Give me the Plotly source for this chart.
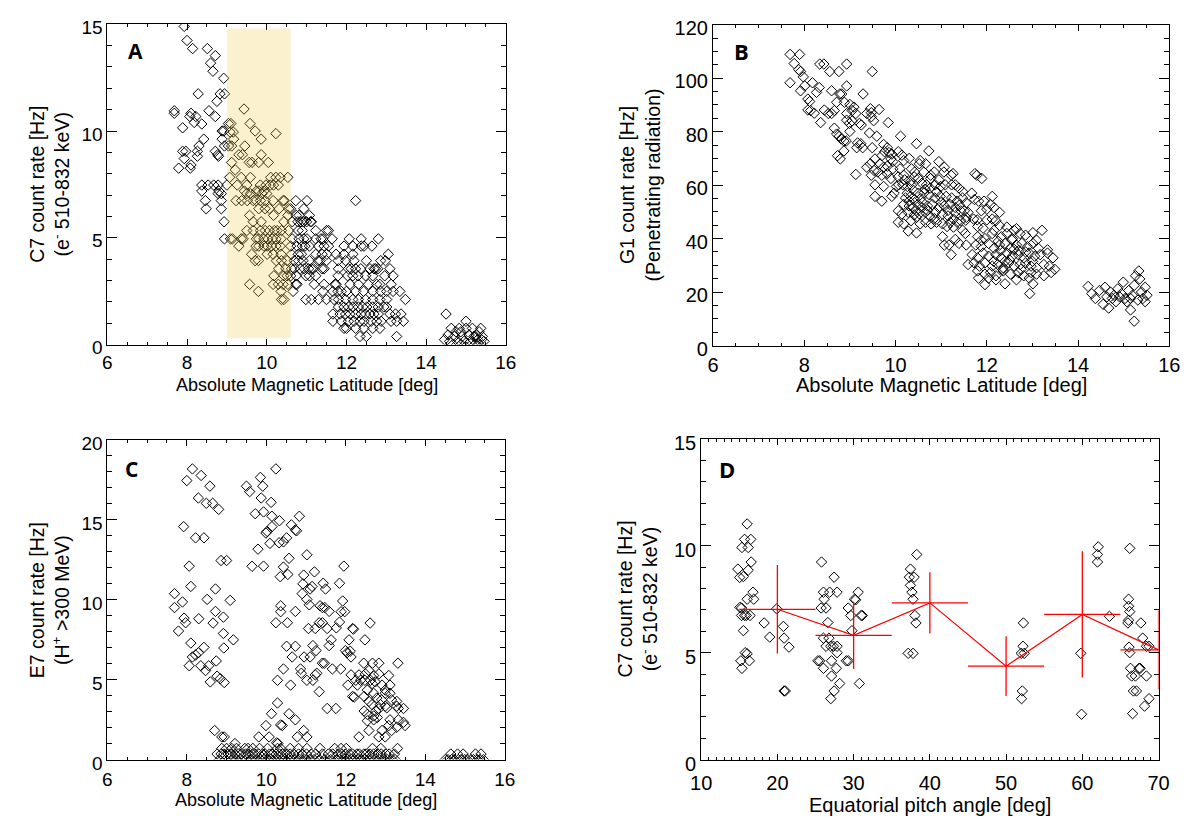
import plotly.graph_objects as go

W, H = 1191, 823

# ---------------- DATA ----------------
# Panel A: C7 count rate [Hz] (quantised levels) vs absolute magnetic latitude [deg]
a_rows = [
    (14.9, [7.93]), (14.24, [8.0]), (13.86, [8.14, 8.51]), (13.53, [8.71]), (13.18, [8.59]),
    (12.8, [8.65]), (12.47, [8.92]), (11.74, [8.28, 8.83, 8.94]), (11.39, [8.75]), (11.03, [9.43]),
    (10.95, [7.68, 8.55]), (10.83, [7.68, 8.1]), (10.68, [8.07, 8.22, 8.71]), (10.4, [8.18]),
    (10.35, [9.04, 9.1, 9.58]), (10.33, [8.37]), (10.15, [7.89]), (10.0, [8.88, 8.92, 9.71]),
    (9.95, [9.08, 9.16]), (9.88, [10.23]), (9.62, [8.42, 8.88, 9.17, 9.86]),
    (9.3, [8.3, 8.94, 9.04, 9.12, 9.45]), (9.05, [7.97, 8.26, 8.71, 7.89]),
    (8.89, [8.77, 9.3, 9.39, 9.86]), (8.82, [8.79, 8.26]), (8.71, [7.93]),
    (8.53, [9.12, 9.56, 9.63, 9.8, 10.04]), (8.41, [8.1]), (8.26, [8.08, 7.79]), (8.18, [9.21]),
    (7.83, [9.07, 9.36, 9.59, 10.1, 10.23, 10.34, 10.53]),
    (7.47, [8.37, 8.53, 8.67, 8.78, 9.0, 9.26, 9.5, 9.84, 9.98, 10.09, 10.17, 10.29]),
    (7.19, [8.37, 8.8, 9.44, 9.74, 9.8, 9.93]),
    (7.07, [8.78, 8.86, 9.5, 9.59, 9.88, 10.0]),
    (6.74, [8.46, 8.86, 9.23, 9.37, 9.51, 9.66, 9.73, 9.84, 9.96, 10.16, 10.41, 10.44, 10.73, 11.01, 12.23]),
    (6.36, [8.48, 8.86, 9.8, 9.96, 10.07, 10.31, 10.55, 10.6, 10.93]),
    (6.05, [9.57, 10.17, 10.53, 10.74, 10.81, 11.07]),
    (5.75, [8.93, 9.66, 9.86, 10.43, 10.64, 10.86, 10.93, 11.0, 11.12, 10.78, 10.92, 11.1]),
    (5.34, [9.5, 9.66, 9.84, 9.96, 10.07, 10.19, 10.26, 10.37, 10.55, 10.79, 10.89, 11.23, 11.5, 11.55]),
    (4.95, [8.94, 9.09, 9.14, 9.36, 9.41, 9.74, 9.8, 9.93, 10.03, 10.14, 10.23, 10.36, 10.64, 10.81,
            10.93, 11.01, 11.23, 11.36, 11.41, 11.64, 12.07, 12.37, 12.8]),
    (4.61, [9.3, 9.73, 9.8, 9.93, 10.01, 10.12, 10.23, 10.34, 10.6, 10.76, 10.89, 10.96, 11.07, 11.3,
            11.44, 11.55, 11.94, 12.16, 12.37, 12.44, 12.64]),
    (4.23, [9.62, 10.01, 10.16, 10.36, 10.62, 10.79, 10.87, 11.23, 11.39, 11.51, 11.74, 11.94, 12.16, 13.05]),
    (3.93, [9.71, 9.79, 10.24, 10.37, 10.51, 10.69, 10.8, 10.91, 11.07, 11.29, 11.34, 11.5, 11.79, 11.98,
            12.19, 12.5, 12.86, 12.98]),
    (3.55, [10.3, 10.48, 10.62, 10.69, 10.84, 10.94, 11.05, 11.12, 11.17, 11.39, 11.44, 11.8, 12.05, 12.12,
            12.23, 12.36, 12.59, 12.69, 12.73, 12.79, 13.09]),
    (3.22, [10.18, 10.43, 10.51, 10.6, 10.74, 10.98, 11.07, 11.23, 11.79, 12.03, 12.16, 12.29, 12.48,
            12.66, 12.96, 13.17]),
    (2.82, [9.57, 10.16, 10.29, 10.41, 10.53, 10.73, 10.76, 11.19, 11.44, 11.71, 11.74, 12.09, 12.3,
            12.55, 12.76, 12.84, 13.12]),
    (2.49, [9.79, 10.36, 10.66, 11.41, 11.66, 11.79, 11.87, 12.0, 12.23, 12.43, 12.66, 12.86, 13.01,
            13.17, 13.34]),
    (2.11, [10.37, 10.43, 10.98, 11.12, 11.3, 11.5, 11.69, 11.8, 11.98, 12.16, 12.3, 12.48, 12.66, 12.84,
            13.01, 13.48]),
    (1.76, [11.8, 11.94, 12.05, 12.16, 12.3, 12.41, 12.51, 12.66, 12.8, 12.94, 13.01]),
    (1.43, [11.66, 11.84, 11.98, 12.09, 12.23, 12.37, 12.48, 12.59, 12.69, 12.8, 13.09, 13.23, 13.37, 14.5]),
    (1.09, [11.66, 11.87, 12.05, 12.19, 12.34, 12.44, 12.62, 12.76, 12.87, 13.12, 13.26, 13.43, 15.0]),
    (0.76, [11.94, 12.0, 12.23, 12.44, 12.66, 12.84, 14.63, 14.83, 15.0, 15.16, 15.37]),
    (0.6, [14.75, 14.87, 15.33]),
    (0.45, [14.55, 15.08, 15.26]),
    (0.38, [12.34, 12.5, 13.26, 14.71, 14.9, 15.2, 15.24, 15.41]),
    (0.23, [14.46, 15.29, 15.39]),
    (0.15, [14.59, 14.79, 14.95, 15.12, 15.45]),
    (0.0, [14.67, 14.87, 15.04, 15.33, 15.22]),
]
a_shade_lat = [9.0, 10.6]
a_shade_c7 = [0.3, 14.8]

# Panel B: G1 count rate [Hz] vs absolute magnetic latitude [deg]
b_upper = [
    (7.69, 108.9), (7.9, 108.9), (7.78, 105.5), (7.88, 103.2), (7.92, 102.5), (7.98, 100.5), (7.69, 98.3),
    (8.01, 97.1), (7.92, 95.3), (8.18, 98.3), (8.34, 105.3), (8.43, 105.3), (8.56, 102.5), (8.76, 102.5),
    (8.93, 105.3), (9.49, 102.5), (8.33, 96.5), (8.93, 97.1), (8.6, 95.3), (8.78, 94.1), (8.82, 94.1),
    (8.27, 94.7), (8.08, 92.2), (8.12, 91.3), (8.08, 88.1), (8.14, 87.9), (8.22, 86.9), (8.44, 88.1),
    (8.53, 86.8), (8.6, 86.8), (8.66, 87.9), (8.36, 83.4), (8.71, 91.0), (8.88, 91.0), (9.0, 90.2),
    (9.09, 89.2), (9.05, 87.9), (8.93, 86.8), (9.13, 86.8), (9.29, 94.1), (9.45, 88.6), (9.47, 87.1),
    (9.64, 88.3), (9.37, 86.8), (8.93, 84.3), (8.99, 83.1), (9.05, 84.0), (9.21, 83.1), (9.25, 82.5),
    (9.47, 85.6), (9.52, 84.1), (9.84, 83.4), (8.66, 81.3), (8.71, 79.1), (8.77, 78.3), (8.81, 77.3),
    (8.87, 76.5), (8.92, 76.5), (9.0, 80.1), (9.17, 75.8), (9.24, 75.5), (9.28, 74.0), (9.43, 79.5),
    (9.59, 78.3), (9.49, 74.0), (9.15, 74.0), (8.73, 71.0), (8.79, 69.8), (8.87, 72.8), (9.13, 64.0),
    (10.11, 78.3), (10.46, 75.5), (10.73, 72.8), (9.74, 75.2), (9.82, 74.0), (9.76, 72.5), (9.86, 72.2),
    (9.7, 71.0), (9.92, 71.6), (10.06, 72.5), (10.14, 71.2), (9.9, 69.8), (9.55, 69.8), (9.66, 68.0),
    (9.45, 68.0), (9.37, 66.7), (9.74, 66.7), (9.82, 67.1), (9.94, 68.8), (10.18, 69.2), (10.3, 70.0),
    (10.54, 69.2), (10.66, 68.0), (10.95, 68.8), (11.07, 66.7), (9.53, 65.5), (9.61, 64.9), (9.82, 64.3),
    (9.94, 66.1), (10.1, 66.1), (10.35, 66.1), (9.47, 63.7), (9.7, 63.7), (9.55, 60.1), (9.74, 59.5),
    (9.55, 55.8), (9.7, 54.0), (9.92, 55.8), (9.97, 57.0), (10.02, 59.5), (10.07, 60.1), (9.9, 62.5),
    (10.06, 63.1), (10.18, 63.7), (10.42, 64.9), (10.62, 64.9), (10.52, 68.0), (10.77, 63.7),
    (10.85, 64.9), (11.06, 64.9), (11.22, 63.7), (11.26, 64.3), (11.74, 64.3), (11.78, 63.7),
    (11.89, 62.5), (10.77, 62.5),
]
b_middle = [
    (10.16, 60.1), (10.26, 59.5), (10.33, 61.4), (10.41, 63.1), (10.5, 62.5), (10.58, 60.7), (10.68, 60.1),
    (10.76, 58.9), (10.87, 60.1), (10.99, 59.5), (11.09, 60.1), (11.23, 60.1), (11.31, 60.1), (11.39, 58.9),
    (11.47, 57.6), (11.67, 57.0), (11.73, 54.6), (11.94, 54.0), (12.12, 55.8), (12.08, 52.8), (12.16, 51.6),
    (12.28, 49.8), (12.0, 51.0), (11.88, 50.4), (11.82, 54.0), (10.26, 57.0), (10.22, 55.2), (10.33, 55.8),
    (10.42, 54.6), (10.5, 57.0), (10.62, 57.0), (10.74, 56.4), (10.86, 55.2), (10.98, 55.8), (11.11, 55.8),
    (11.23, 55.2), (11.35, 54.0), (11.47, 55.2), (11.55, 53.4), (10.18, 52.8), (10.3, 52.2), (10.38, 51.6),
    (10.49, 52.8), (10.58, 51.6), (10.7, 52.2), (10.81, 52.8), (10.95, 51.6), (11.07, 52.2), (11.19, 52.8),
    (11.31, 51.6), (11.43, 50.4), (10.06, 50.4), (10.14, 49.2), (10.28, 49.8), (10.41, 48.9), (10.52, 49.3),
    (10.65, 49.8), (10.75, 48.5), (10.87, 49.8), (11.03, 49.2), (11.15, 48.5), (11.31, 49.8), (11.51, 50.4),
    (11.59, 49.8), (11.71, 47.3), (11.79, 47.0), (12.0, 47.0), (10.06, 46.1), (10.18, 45.5), (10.34, 46.7),
    (10.46, 47.9), (10.54, 45.5), (10.66, 46.1), (10.78, 45.5), (10.9, 46.1), (11.03, 45.5), (11.13, 44.5),
    (11.27, 47.3), (11.35, 46.1), (11.43, 46.7), (11.55, 47.9), (11.47, 43.1), (11.53, 41.9), (10.28, 42.8),
    (10.46, 42.1), (11.27, 44.3), (11.03, 40.7), (11.07, 37.6), (11.17, 37.6), (11.22, 34.0), (11.31, 39.7),
    (11.39, 38.2), (11.55, 37.6), (10.4, 58.0), (10.55, 55.0), (10.7, 50.5), (10.85, 47.5), (11.0, 53.5),
    (10.3, 54.0), (10.6, 53.5), (10.9, 57.5), (11.15, 50.5), (10.45, 50.5), (10.2, 62.0), (10.65, 58.5),
    (11.2, 46.0), (10.95, 62.0), (10.35, 60.0), (11.4, 52.5),
]
b_lower = [
    (12.12, 47.3), (12.2, 46.7), (11.54, 46.9), (11.8, 44.5), (11.92, 43.9), (12.16, 43.1), (12.28, 44.9),
    (12.44, 44.3), (12.6, 43.1), (12.65, 43.7), (11.8, 40.7), (11.96, 40.0), (12.12, 41.9), (12.32, 40.7),
    (12.44, 41.9), (12.56, 40.0), (12.73, 41.9), (12.85, 41.3), (13.01, 42.2), (13.21, 43.1), (13.09, 39.4),
    (11.88, 39.4), (11.76, 37.6), (11.88, 37.0), (12.04, 38.2), (12.16, 36.4), (12.28, 37.6), (12.4, 38.2),
    (12.52, 36.4), (12.65, 37.6), (12.77, 38.2), (12.89, 37.0), (13.01, 38.2), (13.13, 36.4), (13.33, 35.8),
    (11.68, 34.0), (11.8, 32.8), (11.92, 34.6), (12.04, 33.4), (12.2, 34.0), (12.32, 32.8), (12.44, 34.6),
    (12.56, 33.4), (12.69, 34.0), (12.81, 32.8), (12.93, 34.6), (13.05, 33.4), (13.17, 34.0), (13.33, 34.6),
    (13.45, 32.8), (11.59, 30.3), (11.72, 30.9), (11.84, 29.7), (11.96, 30.9), (12.12, 29.7), (12.24, 30.3),
    (12.36, 29.1), (12.48, 30.9), (12.6, 29.7), (12.73, 30.3), (12.85, 30.9), (12.97, 29.7), (13.09, 29.1),
    (13.25, 30.3), (13.37, 29.7), (13.49, 28.5), (11.8, 27.9), (11.96, 26.7), (12.08, 27.3), (12.2, 26.1),
    (12.36, 27.9), (12.52, 26.7), (12.69, 27.3), (12.81, 26.1), (12.97, 27.3), (13.09, 26.7), (13.25, 26.1),
    (13.41, 27.3), (11.82, 25.2), (12.04, 25.2), (12.2, 24.6), (12.4, 23.1), (12.65, 24.6), (12.93, 25.2),
    (13.01, 23.1), (11.96, 22.8), (12.94, 19.4), (12.3, 35.5), (12.5, 32.0), (12.7, 35.5), (12.4, 31.5),
    (12.6, 36.0), (12.15, 31.5), (12.85, 35.0), (12.55, 39.5), (12.25, 39.0), (13.0, 31.5), (12.75, 28.5),
    (12.35, 28.5),
]
b_far = [
    (14.22, 22.1), (14.3, 19.4), (14.38, 17.6), (14.55, 15.4), (14.67, 14.0), (14.47, 20.6), (14.59, 21.8),
    (14.71, 20.0), (14.79, 18.8), (14.87, 21.2), (14.95, 19.4), (15.03, 17.6), (15.11, 20.6), (15.19, 18.8),
    (15.23, 22.5), (15.31, 17.0), (15.35, 24.9), (15.39, 20.0), (15.47, 21.8), (15.51, 18.8), (15.33, 27.9),
    (15.26, 26.1), (15.23, 9.1), (15.15, 13.3), (14.83, 16.4), (14.99, 23.7), (15.07, 16.4), (14.75, 17.6),
    (14.63, 18.2), (14.91, 18.2), (15.15, 17.6), (15.42, 17.6), (15.47, 16.4),
]

# Panel C: E7 count rate [Hz] vs absolute magnetic latitude [deg]
c_scatter = [
    (8.14, 18.18), (8.36, 17.77), (8.0, 17.45), (8.58, 17.1), (8.29, 16.36), (8.49, 16.03), (8.65, 16.03),
    (8.8, 15.65), (7.92, 14.57), (8.22, 13.87), (8.43, 13.87), (8.86, 12.45), (9.0, 12.45), (8.06, 12.1),
    (8.1, 10.83), (7.69, 10.38), (8.51, 10.02), (8.72, 10.67), (9.09, 9.96), (7.89, 9.86), (7.69, 9.51),
    (7.93, 8.85), (7.97, 8.56), (8.3, 8.81), (8.72, 9.27), (8.92, 8.91), (8.66, 8.54), (7.79, 8.04),
    (8.92, 7.89), (9.17, 7.49), (8.1, 7.29), (8.43, 7.02), (8.93, 6.98), (8.29, 6.68), (8.22, 6.54),
    (8.14, 6.42), (8.74, 6.17), (8.06, 5.87), (8.35, 5.87), (8.55, 5.87), (8.47, 5.57), (8.59, 4.86),
    (8.76, 5.22), (8.84, 5.06), (8.94, 4.82),
    (10.24, 18.18), (9.5, 17.1), (9.58, 16.76), (9.85, 17.65), (9.91, 17.1), (9.87, 16.36), (10.12, 16.09),
    (9.72, 15.38), (9.93, 15.49), (10.14, 15.22), (10.33, 14.94), (10.14, 14.57), (10.02, 14.27),
    (9.99, 14.17), (10.63, 14.68), (10.73, 14.37), (10.76, 14.31), (10.83, 15.22), (10.43, 13.62),
    (10.51, 13.87), (10.32, 13.56), (10.09, 13.52), (9.79, 13.16), (9.64, 12.09), (9.93, 12.1),
    (10.43, 12.04), (10.57, 12.59), (10.35, 11.44), (10.54, 11.58), (11.02, 12.81), (10.94, 11.54),
    (10.92, 10.99), (10.9, 10.38), (11.02, 10.02), (11.08, 9.68), (11.1, 10.67), (11.15, 10.83),
    (11.21, 11.74), (11.43, 11.03), (11.49, 10.67), (11.06, 8.2), (10.36, 9.62), (10.36, 9.25),
    (10.24, 8.56), (10.53, 8.56), (10.73, 9.27), (11.35, 9.62), (11.41, 9.51), (11.47, 9.51),
    (11.58, 9.27), (11.33, 8.56), (11.23, 8.2), (11.41, 8.56), (11.53, 8.2), (11.76, 8.24), (11.84, 8.6),
    (11.88, 9.25), (11.92, 9.92), (11.97, 9.25), (11.84, 11.03), (11.95, 12.1), (12.17, 8.2),
    (12.61, 8.54), (10.51, 7.09), (10.73, 7.09), (10.65, 6.42), (10.95, 6.42), (11.1, 6.42),
    (11.17, 7.13), (11.25, 6.82), (11.58, 7.13), (11.63, 7.49), (12.03, 6.68), (12.08, 7.49),
    (11.99, 6.82), (12.11, 6.78), (12.13, 6.42), (12.19, 8.16), (12.48, 7.49), (12.45, 6.03),
    (12.67, 6.03), (12.83, 6.03), (13.31, 6.03), (10.43, 5.67), (10.86, 5.67), (10.88, 5.4),
    (11.02, 4.96), (11.17, 4.96), (11.23, 5.3), (11.27, 5.4), (11.41, 6.03), (11.46, 6.03),
    (11.66, 5.67), (11.87, 5.67), (10.61, 4.66), (10.28, 4.96), (11.33, 4.25), (12.05, 4.66),
    (12.13, 5.3), (12.25, 4.96), (12.33, 5.3), (12.29, 4.66), (12.37, 4.96), (12.49, 5.36), (12.48, 4.96),
    (12.58, 5.57), (12.62, 4.96), (12.7, 5.26), (12.66, 4.76), (12.74, 4.86), (12.83, 5.36), (12.91, 4.66),
    (12.99, 4.35), (13.08, 5.26), (13.11, 4.66), (12.46, 3.95), (12.54, 4.35), (12.17, 3.95), (12.21, 3.91),
    (12.7, 4.15), (12.78, 3.85), (12.9, 3.74), (12.99, 4.15), (13.11, 4.15), (13.15, 3.74), (13.28, 3.64),
    (12.58, 3.64), (12.66, 3.44), (12.87, 3.44), (12.99, 3.34), (13.03, 3.24), (13.28, 3.34), (13.45, 3.2),
    (13.32, 3.2), (11.75, 3.2), (12.46, 3.04), (12.54, 2.83), (12.7, 2.73), (12.75, 3.04), (12.83, 3.18),
    (12.54, 2.43), (12.7, 2.49), (13.11, 2.49), (13.32, 2.49), (13.45, 2.33), (13.49, 2.13), (13.28, 2.02),
    (13.15, 1.82), (13.08, 2.13), (12.91, 1.82), (12.83, 1.42), (12.99, 1.42), (12.58, 1.82), (12.33, 1.42),
    (12.79, 2.63), (10.28, 3.54), (10.13, 2.87), (10.36, 2.17), (10.4, 2.13), (10.57, 2.87), (10.73, 2.49),
    (9.99, 2.13), (10.07, 1.42), (9.81, 1.42), (10.26, 1.05), (10.29, 1.01), (10.78, 1.42), (10.94, 1.82),
    (11.02, 1.42), (11.53, 3.2), (8.7, 1.82), (8.88, 1.42), (8.94, 1.42), (9.21, 1.01),
]
c_rows_low = [
    (0.7, [8.88, 9.0, 9.13, 9.25, 9.46, 9.54, 9.66, 9.83, 10.03, 10.28, 10.36, 10.6, 10.81, 11.02, 11.35,
           11.72, 11.88, 12.01, 12.67, 12.88, 13.3]),
    (0.35, [8.76, 8.86, 8.93, 9.04, 9.1, 9.21, 9.3, 9.37, 9.48, 9.55, 9.65, 9.71, 9.81, 9.9, 9.97, 10.08,
            10.14, 10.25, 10.33, 10.41, 10.52, 10.6, 10.69, 10.81, 10.9, 11.01, 11.13, 11.24, 11.41, 11.56,
            11.67, 11.81, 11.9, 11.99, 12.09, 12.17, 12.28, 12.34, 12.45, 12.51, 12.61, 12.7, 12.81, 12.89,
            13.01, 13.09, 13.22, 14.64, 14.81, 14.95, 15.26, 15.4]),
    (0.0, [8.82, 8.97, 9.13, 9.26, 9.36, 9.49, 9.63, 9.74, 9.86, 9.94, 10.05, 10.11, 10.21, 10.3, 10.39,
           10.46, 10.56, 10.63, 10.72, 10.84, 10.97, 11.09, 11.2, 11.34, 11.47, 11.62, 11.76, 11.84, 11.96,
           12.04, 12.14, 12.21, 12.31, 12.38, 12.47, 12.56, 12.63, 12.73, 12.84, 12.96, 13.04, 13.16, 13.24,
           14.5, 14.57, 14.66, 14.73, 14.83, 14.9, 14.99, 15.05, 15.15, 15.21, 15.31, 15.37, 15.46]),
]

# Panel D: C7 count rate [Hz] vs equatorial pitch angle [deg]
d_scatter = [
    (14.81, 8.91), (15.05, 8.52), (15.54, 8.56), (15.35, 9.92), (15.69, 10.3), (16.03, 11.02), (16.17, 9.92),
    (16.51, 10.3), (16.17, 8.86), (16.56, 9.24), (16.8, 7.83), (16.9, 7.5), (16.03, 7.5), (15.3, 7.09),
    (15.1, 7.12), (15.69, 6.74), (15.3, 6.74), (15.93, 6.74), (16.41, 6.74), (15.54, 6.03), (15.78, 5.0),
    (16.03, 4.95), (15.2, 4.62), (16.32, 4.62), (15.35, 4.27), (18.26, 6.39), (18.99, 5.73), (19.91, 7.05),
    (20.79, 6.23), (20.88, 5.68), (21.52, 5.26), (20.88, 3.21), (21.03, 3.21),
    (25.79, 9.24), (26.04, 7.83), (26.13, 7.5), (25.74, 7.09), (26.38, 7.09), (26.86, 7.83), (27.44, 8.53),
    (27.83, 7.83), (26.62, 6.41), (26.04, 5.68), (26.38, 5.3), (26.76, 5.68), (27.0, 5.3), (27.35, 5.3),
    (27.83, 5.3), (27.83, 5.0), (25.31, 4.62), (25.55, 4.62), (26.04, 4.27), (27.1, 4.62), (27.73, 4.27),
    (27.1, 3.91), (28.17, 3.56), (27.44, 3.21), (27.0, 2.85), (29.05, 4.62), (29.3, 4.62), (29.29, 7.09),
    (29.63, 6.74), (29.78, 6.03), (30.12, 7.5), (30.26, 7.47), (30.6, 7.83), (30.99, 6.74), (31.14, 6.74),
    (30.75, 3.56),
    (37.45, 8.91), (37.31, 8.53), (37.94, 8.53), (37.45, 8.15), (37.65, 7.83), (37.79, 7.5), (38.28, 9.59),
    (38.04, 6.74), (38.18, 6.39), (37.16, 4.97), (37.79, 4.97),
    (52.27, 6.39), (52.22, 5.3), (51.98, 4.97), (52.37, 4.97), (52.13, 3.21), (52.03, 2.85),
    (59.8, 4.97), (59.9, 2.12), (62.09, 9.95), (61.99, 9.59), (61.99, 9.24), (63.55, 6.7),
    (66.22, 9.88), (66.07, 7.5), (66.07, 7.17), (66.22, 6.92), (66.07, 6.52), (65.98, 6.39), (67.68, 6.39),
    (67.92, 5.68), (68.41, 5.3), (68.75, 5.3), (66.12, 5.26), (66.22, 5.0), (66.32, 4.27), (66.47, 3.91),
    (66.96, 3.91), (67.44, 4.27), (67.58, 4.27), (68.41, 3.91), (66.7, 3.21), (67.1, 3.21), (68.75, 2.85),
    (68.16, 2.5), (66.6, 2.15),
]
d_bin_pitch = [20, 30, 40, 50, 60, 70]
d_bin_mean = [7.03, 5.81, 7.33, 4.37, 6.79, 5.13]
d_bin_std = [2.07, 1.57, 1.43, 1.40, 2.95, 1.85]
d_bin_halfwidth = [5, 5, 5, 5, 5, 5]

# ---------------- BUILD ----------------
a_lat, a_c7 = [], []
for lvl, lats in a_rows:
    a_lat += lats
    a_c7 += [lvl] * len(lats)

b_pts = b_upper + b_middle + b_lower + b_far
b_lat = [p[0] for p in b_pts]
b_g1 = [p[1] for p in b_pts]

c_lat = [p[0] for p in c_scatter]
c_e7 = [p[1] for p in c_scatter]
for lvl, lats in c_rows_low:
    c_lat += lats
    c_e7 += [lvl] * len(lats)

d_pitch = [p[0] for p in d_scatter]
d_c7 = [p[1] for p in d_scatter]

FONT = "Liberation Sans, Arial, Helvetica, sans-serif"
LETTER_FONT = "Open Sans, DejaVu Sans, sans-serif"


def px_x(p):
    return p / W


def px_y(p):
    return 1 - p / H


marker = dict(symbol="diamond-open", size=8, color="black", line=dict(width=1, color="black"))

fig = go.Figure()
fig.add_trace(go.Scatter(x=a_lat, y=a_c7, mode="markers", marker=marker, xaxis="x", yaxis="y",
                         showlegend=False, hoverinfo="skip"))
fig.add_trace(go.Scatter(x=b_lat, y=b_g1, mode="markers", marker=marker, xaxis="x2", yaxis="y2",
                         showlegend=False, hoverinfo="skip"))
fig.add_trace(go.Scatter(x=c_lat, y=c_e7, mode="markers", marker=marker, xaxis="x3", yaxis="y3",
                         showlegend=False, hoverinfo="skip"))
fig.add_trace(go.Scatter(x=d_pitch, y=d_c7, mode="markers", marker=marker, xaxis="x4", yaxis="y4",
                         showlegend=False, hoverinfo="skip"))
fig.add_trace(go.Scatter(
    x=d_bin_pitch, y=d_bin_mean, mode="lines", line=dict(color="red", width=1.2),
    error_x=dict(type="data", array=d_bin_halfwidth, color="red", thickness=1.3, width=0),
    error_y=dict(type="data", array=d_bin_std, color="red", thickness=1.3, width=0),
    xaxis="x4", yaxis="y4", showlegend=False, hoverinfo="skip"))


def axis(domain, rng, dtick, minor, tick0, ticklen, minorlen, fsize, anchor, standoff=None, shift=None):
    d = dict(
        domain=domain, range=rng, dtick=dtick, tick0=tick0, anchor=anchor,
        ticks="inside", ticklen=ticklen, tickwidth=1, tickcolor="black",
        showline=True, linecolor="black", linewidth=1, mirror="allticks",
        showgrid=False, zeroline=False, fixedrange=True,
        tickfont=dict(family=FONT, size=fsize, color="black"),
        minor=dict(dtick=minor, tick0=tick0, ticks="inside", ticklen=minorlen, tickwidth=1,
                   tickcolor="black", showgrid=False),
    )
    if standoff is not None:
        d["ticklabelstandoff"] = standoff
    if shift is not None:
        d["ticklabelshift"] = shift
    return d


# panel pixel boxes (left, right, top, bottom)
boxA = (90, 496, 8.5, 338)
boxB = (707, 1172, 9, 339)
boxC = (90, 495, 436, 765)
boxD = (695, 1161, 435, 765)


def dom(box):
    l, r, t, b = box
    return [px_x(l), px_x(r)], [px_y(b), px_y(t)]


dAx, dAy = dom(boxA)
dBx, dBy = dom(boxB)
dCx, dCy = dom(boxC)
dDx, dDy = dom(boxD)

LF, RF = 19, 20
fig.update_layout(
    width=W, height=H, margin=dict(l=0, r=0, t=0, b=0),
    paper_bgcolor="white", plot_bgcolor="white",
    font=dict(family=FONT, color="black"),
    xaxis=axis(dAx, [6, 16], 2, 0.5, 6, 6, 3, LF, "y", standoff=1),
    yaxis=axis(dAy, [0, 15], 5, 1, 0, 10, 5, LF, "x", shift=3),
    xaxis2=axis(dBx, [6, 16], 2, 0.5, 6, 6, 3, RF, "y2", standoff=1),
    yaxis2=axis(dBy, [0, 120], 20, 5, 0, 10, 5, RF, "x2", shift=3),
    xaxis3=axis(dCx, [6, 16], 2, 0.5, 6, 6, 3, LF, "y3", standoff=3),
    yaxis3=axis(dCy, [0, 20], 5, 1, 0, 10, 5, LF, "x3", shift=4),
    xaxis4=axis(dDx, [10, 70], 10, 1, 10, 6, 3, RF, "y4", standoff=5),
    yaxis4=axis(dDy, [0, 15], 5, 1, 0, 10, 5, RF, "x4", shift=4),
)

fig.add_shape(type="rect", xref="x", yref="y", x0=a_shade_lat[0], x1=a_shade_lat[1],
              y0=a_shade_c7[0], y1=a_shade_c7[1], fillcolor="rgba(240,200,60,0.25)",
              line=dict(width=0), layer="above")

ann = []
# panel letters
for txt, xr, yr, xv, yv, fs in [("A", "x", "y", 6.7, 13.75, 21), ("B", "x2", "y2", 6.62, 110, 22),
                                ("C", "x3", "y3", 6.62, 18.2, 21), ("D", "x4", "y4", 13.4, 13.6, 22)]:
    ann.append(dict(text="<b>%s</b>" % txt, xref=xr, yref=yr, x=xv, y=yv, showarrow=False,
                    xanchor="center", yanchor="middle", font=dict(family=LETTER_FONT, size=fs, color="black")))

ytitles = [
    ("C7 count rate [Hz]<br>(e<sup>-</sup> 510-832 keV)", 31, (boxA[2] + boxA[3]) / 2),
    ("G1 count rate [Hz]<br>(Penetrating radiation)", 632, (boxB[2] + boxB[3]) / 2),
    ("E7 count rate [Hz]<br>(H<sup>+</sup> &gt;300 MeV)", 31, (boxC[2] + boxC[3]) / 2),
    ("C7 count rate [Hz]<br>(e<sup>-</sup> 510-832 keV)", 630, (boxD[2] + boxD[3]) / 2),
]
for txt, xp, yp in ytitles:
    ann.append(dict(text=txt, xref="paper", yref="paper", x=px_x(xp), y=px_y(yp), showarrow=False,
                    textangle=-90, xanchor="center", yanchor="middle",
                    font=dict(family=FONT, size=19.5, color="black")))

xtitles = [
    ("Absolute Magnetic Latitude [deg]", (boxA[0] + boxA[1]) / 2, 380, 18),
    ("Absolute Magnetic Latitude [deg]", (boxB[0] + boxB[1]) / 2, 380, 20),
    ("Absolute Magnetic Latitude [deg]", (boxC[0] + boxC[1]) / 2, 807, 18),
    ("Equatorial pitch angle [deg]", (boxD[0] + boxD[1]) / 2, 812, 20),
]
for txt, xp, yp, fs in xtitles:
    ann.append(dict(text=txt, xref="paper", yref="paper", x=px_x(xp), y=px_y(yp), showarrow=False,
                    xanchor="center", yanchor="middle", font=dict(family=FONT, size=fs, color="black")))

fig.update_layout(annotations=ann)

fig.write_html("out.html")
